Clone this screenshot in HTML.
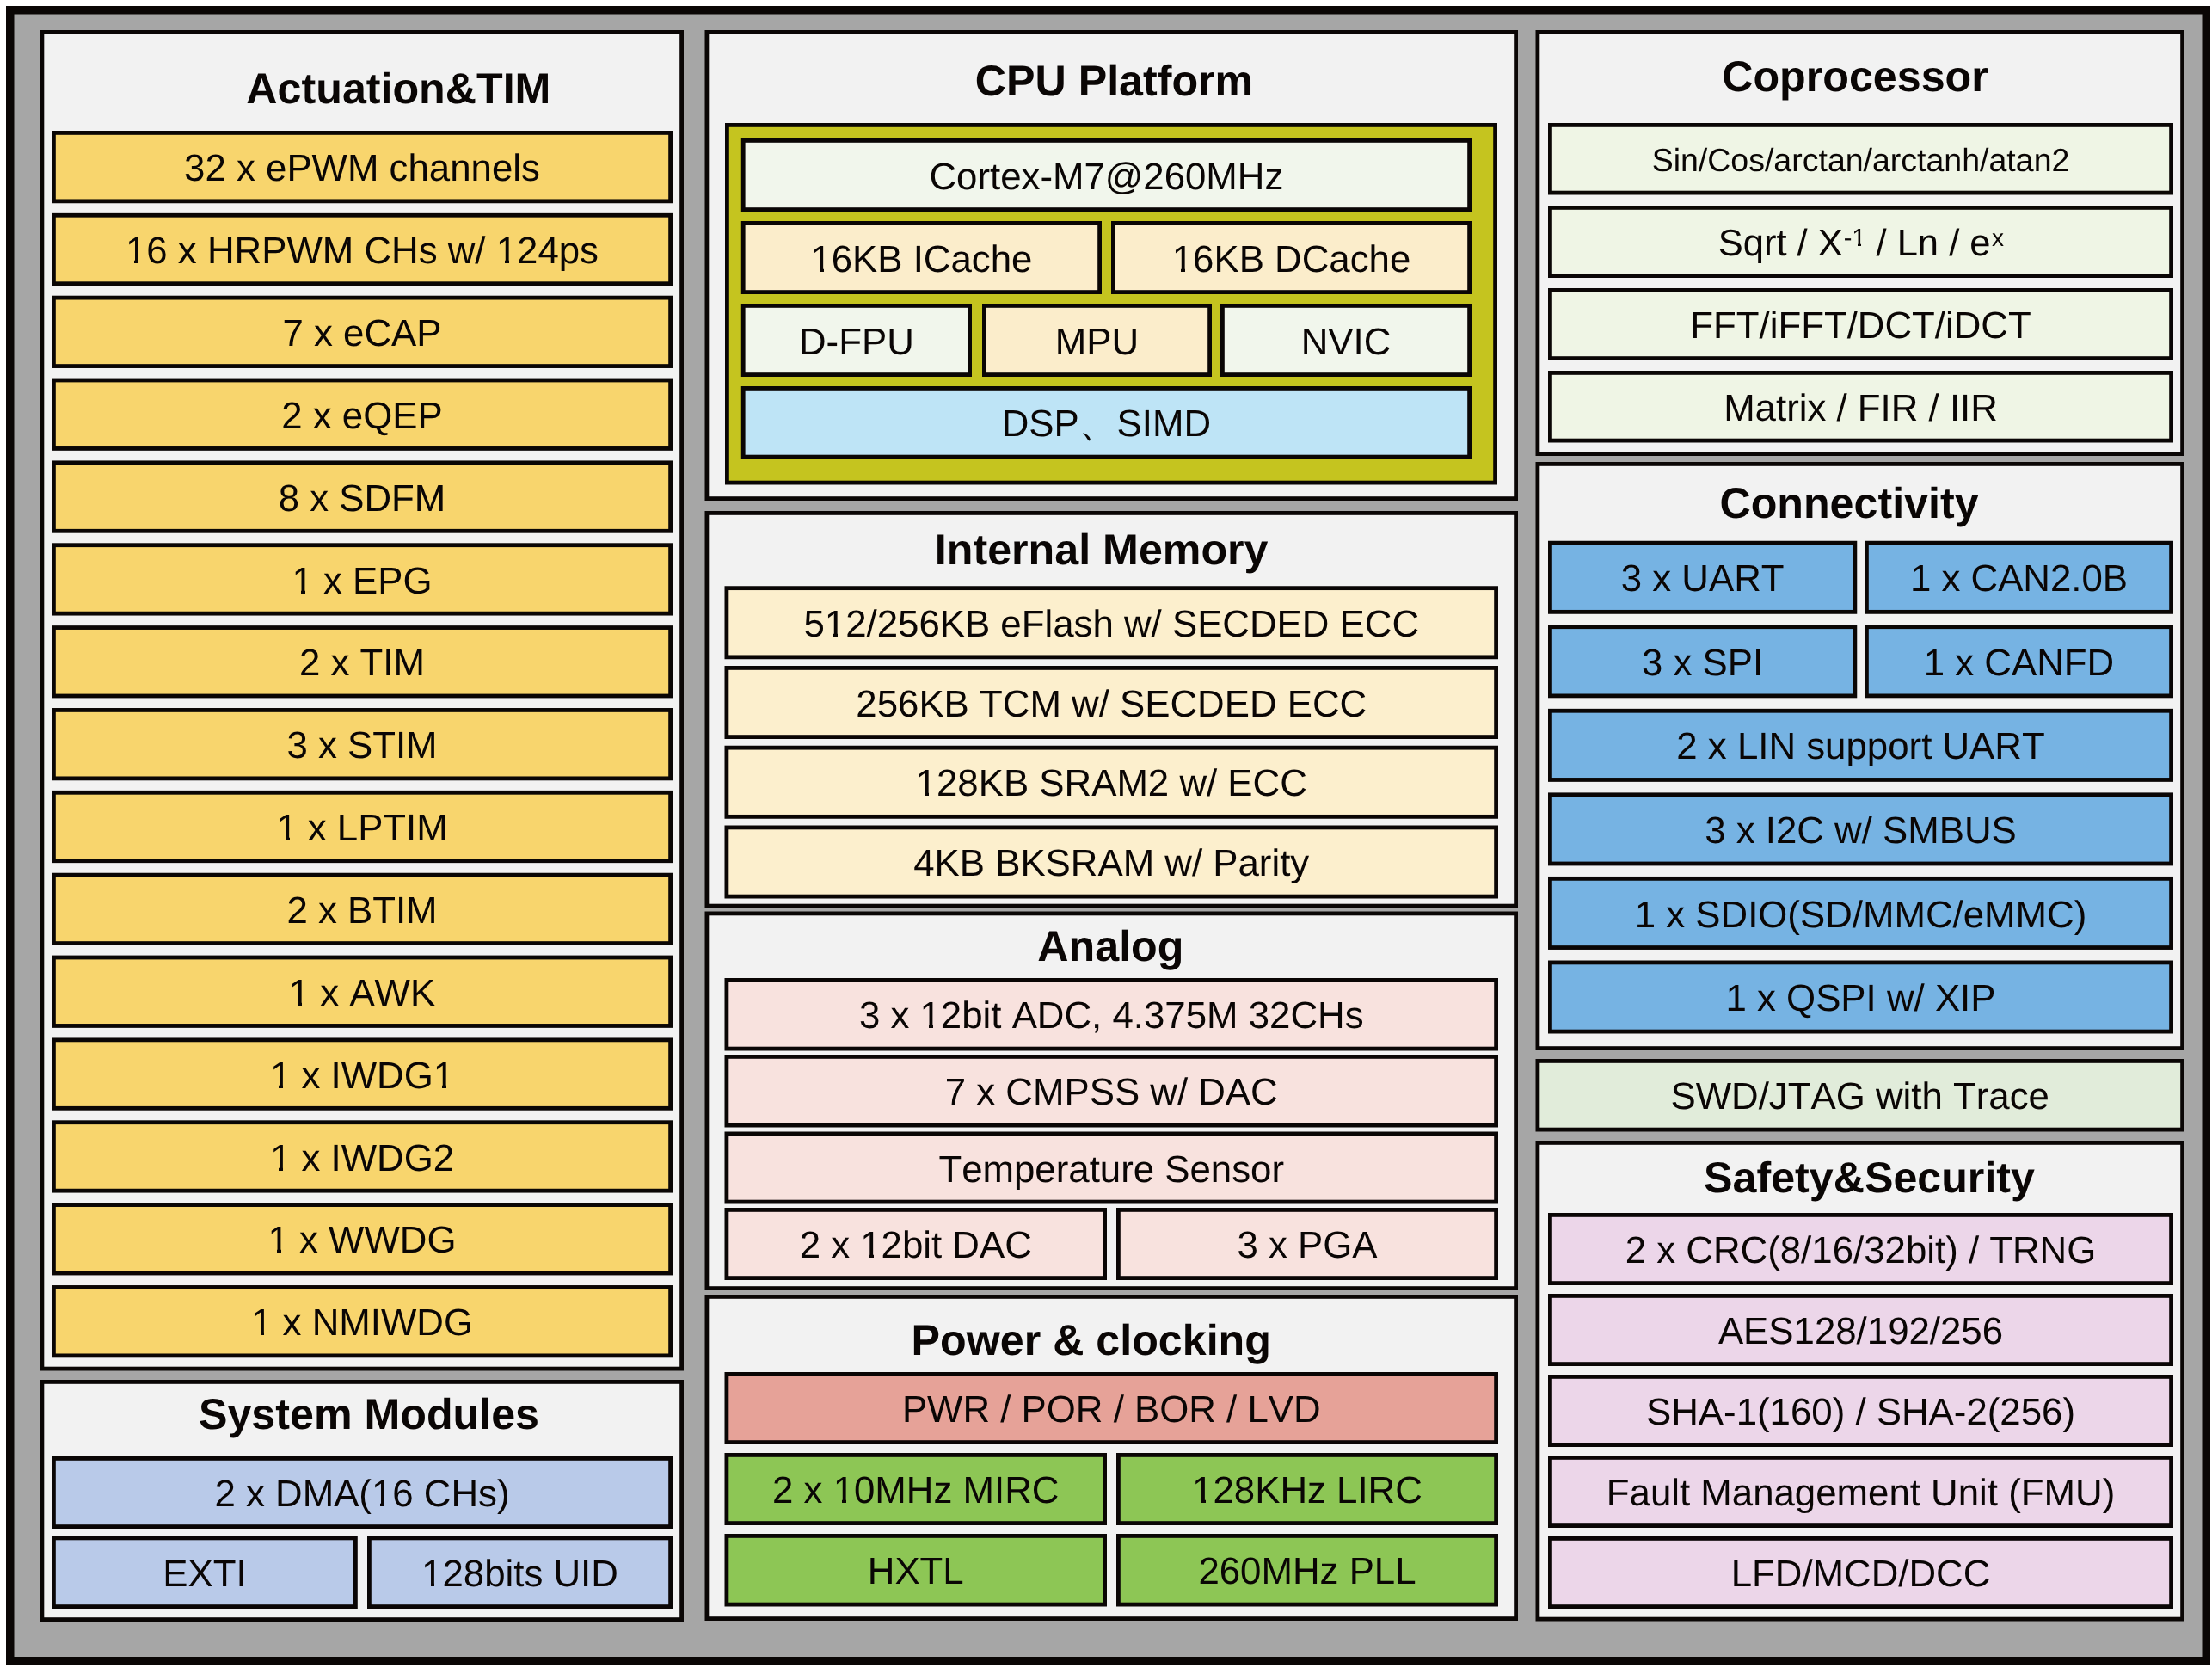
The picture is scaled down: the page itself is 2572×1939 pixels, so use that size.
<!DOCTYPE html>
<html><head><meta charset="utf-8"><style>
html,body{margin:0;padding:0;background:#fff;}
body{position:relative;width:2572px;height:1939px;overflow:hidden;}
svg{display:block;will-change:transform;}
text{font-family:"Liberation Sans",sans-serif;fill:#0a0605;text-anchor:middle;text-rendering:geometricPrecision;font-kerning:none;}
</style></head><body>
<svg width="2572" height="1939" viewBox="0 0 2572 1939">
<rect x="0" y="0" width="2572" height="1939" fill="#fff"/>
<rect x="11.75" y="11.75" width="2553.50" height="1919.00" fill="#a6a6a6" stroke="#0a0605" stroke-width="9.5"/>
<rect x="48.90" y="37.40" width="743.70" height="1553.70" fill="#f2f2f2" stroke="#0a0605" stroke-width="4.8"/>
<rect x="48.90" y="1606.40" width="743.70" height="276.20" fill="#f2f2f2" stroke="#0a0605" stroke-width="4.8"/>
<rect x="821.90" y="37.40" width="940.70" height="542.20" fill="#f2f2f2" stroke="#0a0605" stroke-width="4.8"/>
<rect x="821.90" y="596.40" width="940.70" height="456.70" fill="#f2f2f2" stroke="#0a0605" stroke-width="4.8"/>
<rect x="821.90" y="1061.90" width="940.70" height="435.70" fill="#f2f2f2" stroke="#0a0605" stroke-width="4.8"/>
<rect x="821.90" y="1507.40" width="940.70" height="374.20" fill="#f2f2f2" stroke="#0a0605" stroke-width="4.8"/>
<rect x="1787.90" y="37.40" width="749.70" height="490.20" fill="#f2f2f2" stroke="#0a0605" stroke-width="4.8"/>
<rect x="1787.90" y="539.40" width="749.70" height="679.20" fill="#f2f2f2" stroke="#0a0605" stroke-width="4.8"/>
<rect x="1787.90" y="1328.40" width="749.70" height="553.70" fill="#f2f2f2" stroke="#0a0605" stroke-width="4.8"/>
<text x="463.40" y="120.00" font-size="50.2" font-weight="bold">Actuation&amp;TIM</text>
<text x="429.00" y="1661.00" font-size="50.2" font-weight="bold">System Modules</text>
<text x="1295.50" y="111.00" font-size="50.2" font-weight="bold">CPU Platform</text>
<text x="1280.70" y="656.00" font-size="50.2" font-weight="bold">Internal Memory</text>
<text x="1291.40" y="1116.50" font-size="50.2" font-weight="bold">Analog</text>
<text x="1268.75" y="1574.60" font-size="50.2" font-weight="bold">Power &amp; clocking</text>
<text x="2157.00" y="106.00" font-size="50.2" font-weight="bold">Coprocessor</text>
<text x="2150.00" y="602.00" font-size="50.2" font-weight="bold">Connectivity</text>
<text x="2173.50" y="1386.00" font-size="50.2" font-weight="bold">Safety&amp;Security</text>
<rect x="62.40" y="154.40" width="717.20" height="79.45" fill="#f8d56d" stroke="#0a0605" stroke-width="4.8"/>
<text x="421.00" y="210.22" font-size="43.8">32 x ePWM channels</text>
<rect x="62.40" y="250.26" width="717.20" height="79.45" fill="#f8d56d" stroke="#0a0605" stroke-width="4.8"/>
<text id="n0" x="421.00" y="306.09" font-size="43.8">16 x HRPWM CHs w/ 124ps</text>
<rect x="148" y="302" width="8" height="5" fill="#f8d56d" shape-rendering="crispEdges"/>
<rect x="161" y="302" width="8" height="5" fill="#f8d56d" shape-rendering="crispEdges"/>
<rect x="579" y="302" width="8" height="5" fill="#f8d56d" shape-rendering="crispEdges"/>
<rect x="592" y="302" width="8" height="5" fill="#f8d56d" shape-rendering="crispEdges"/>
<rect x="62.40" y="346.12" width="717.20" height="79.45" fill="#f8d56d" stroke="#0a0605" stroke-width="4.8"/>
<text x="421.00" y="401.95" font-size="43.8">7 x eCAP</text>
<rect x="62.40" y="441.98" width="717.20" height="79.45" fill="#f8d56d" stroke="#0a0605" stroke-width="4.8"/>
<text x="421.00" y="497.80" font-size="43.8">2 x eQEP</text>
<rect x="62.40" y="537.84" width="717.20" height="79.45" fill="#f8d56d" stroke="#0a0605" stroke-width="4.8"/>
<text x="421.00" y="593.67" font-size="43.8">8 x SDFM</text>
<rect x="62.40" y="633.70" width="717.20" height="79.45" fill="#f8d56d" stroke="#0a0605" stroke-width="4.8"/>
<text id="n1" x="421.00" y="689.52" font-size="43.8">1 x EPG</text>
<rect x="342" y="685" width="8" height="6" fill="#f8d56d" shape-rendering="crispEdges"/>
<rect x="355" y="685" width="8" height="6" fill="#f8d56d" shape-rendering="crispEdges"/>
<rect x="62.40" y="729.56" width="717.20" height="79.45" fill="#f8d56d" stroke="#0a0605" stroke-width="4.8"/>
<text x="421.00" y="785.38" font-size="43.8">2 x TIM</text>
<rect x="62.40" y="825.42" width="717.20" height="79.45" fill="#f8d56d" stroke="#0a0605" stroke-width="4.8"/>
<text x="421.00" y="881.25" font-size="43.8">3 x STIM</text>
<rect x="62.40" y="921.28" width="717.20" height="79.45" fill="#f8d56d" stroke="#0a0605" stroke-width="4.8"/>
<text id="n2" x="421.00" y="977.11" font-size="43.8">1 x LPTIM</text>
<rect x="324" y="973" width="8" height="5" fill="#f8d56d" shape-rendering="crispEdges"/>
<rect x="337" y="973" width="7" height="5" fill="#f8d56d" shape-rendering="crispEdges"/>
<rect x="62.40" y="1017.14" width="717.20" height="79.45" fill="#f8d56d" stroke="#0a0605" stroke-width="4.8"/>
<text x="421.00" y="1072.96" font-size="43.8">2 x BTIM</text>
<rect x="62.40" y="1113.00" width="717.20" height="79.45" fill="#f8d56d" stroke="#0a0605" stroke-width="4.8"/>
<text id="n3" x="421.00" y="1168.82" font-size="43.8">1 x AWK</text>
<rect x="338" y="1165" width="8" height="5" fill="#f8d56d" shape-rendering="crispEdges"/>
<rect x="351" y="1165" width="8" height="5" fill="#f8d56d" shape-rendering="crispEdges"/>
<rect x="62.40" y="1208.86" width="717.20" height="79.45" fill="#f8d56d" stroke="#0a0605" stroke-width="4.8"/>
<text id="n4" x="421.00" y="1264.68" font-size="43.8">1 x IWDG1</text>
<rect x="316" y="1261" width="8" height="5" fill="#f8d56d" shape-rendering="crispEdges"/>
<rect x="329" y="1261" width="8" height="5" fill="#f8d56d" shape-rendering="crispEdges"/>
<rect x="506" y="1261" width="8" height="5" fill="#f8d56d" shape-rendering="crispEdges"/>
<rect x="519" y="1261" width="8" height="5" fill="#f8d56d" shape-rendering="crispEdges"/>
<rect x="62.40" y="1304.72" width="717.20" height="79.45" fill="#f8d56d" stroke="#0a0605" stroke-width="4.8"/>
<text id="n5" x="421.00" y="1360.54" font-size="43.8">1 x IWDG2</text>
<rect x="316" y="1356" width="8" height="6" fill="#f8d56d" shape-rendering="crispEdges"/>
<rect x="329" y="1356" width="8" height="6" fill="#f8d56d" shape-rendering="crispEdges"/>
<rect x="62.40" y="1400.58" width="717.20" height="79.45" fill="#f8d56d" stroke="#0a0605" stroke-width="4.8"/>
<text id="n6" x="421.00" y="1456.40" font-size="43.8">1 x WWDG</text>
<rect x="314" y="1452" width="8" height="6" fill="#f8d56d" shape-rendering="crispEdges"/>
<rect x="327" y="1452" width="8" height="6" fill="#f8d56d" shape-rendering="crispEdges"/>
<rect x="62.40" y="1496.44" width="717.20" height="79.45" fill="#f8d56d" stroke="#0a0605" stroke-width="4.8"/>
<text id="n7" x="421.00" y="1552.26" font-size="43.8">1 x NMIWDG</text>
<rect x="294" y="1548" width="9" height="6" fill="#f8d56d" shape-rendering="crispEdges"/>
<rect x="307" y="1548" width="8" height="6" fill="#f8d56d" shape-rendering="crispEdges"/>
<rect x="62.40" y="1695.40" width="717.20" height="79.20" fill="#b9cae9" stroke="#0a0605" stroke-width="4.8"/>
<text id="n8" x="421.00" y="1751.10" font-size="43.8">2 x DMA(16 CHs)</text>
<rect x="434" y="1747" width="8" height="5" fill="#b9cae9" shape-rendering="crispEdges"/>
<rect x="447" y="1747" width="8" height="5" fill="#b9cae9" shape-rendering="crispEdges"/>
<rect x="62.40" y="1787.90" width="351.00" height="79.70" fill="#b9cae9" stroke="#0a0605" stroke-width="4.8"/>
<text x="237.90" y="1843.85" font-size="43.8">EXTI</text>
<rect x="429.40" y="1787.90" width="350.20" height="79.70" fill="#b9cae9" stroke="#0a0605" stroke-width="4.8"/>
<text id="n9" x="604.50" y="1843.85" font-size="43.8">128bits UID</text>
<rect x="492" y="1840" width="9" height="5" fill="#b9cae9" shape-rendering="crispEdges"/>
<rect x="505" y="1840" width="8" height="5" fill="#b9cae9" shape-rendering="crispEdges"/>
<rect x="845.40" y="145.40" width="893.20" height="415.70" fill="#c5c41f" stroke="#0a0605" stroke-width="4.8"/>
<rect x="864.20" y="163.40" width="844.40" height="80.20" fill="#f1f6ec" stroke="#0a0605" stroke-width="4.8"/>
<text x="1286.40" y="219.60" font-size="43.8">Cortex-M7@260MHz</text>
<rect x="864.20" y="259.40" width="414.40" height="80.20" fill="#fbedcb" stroke="#0a0605" stroke-width="4.8"/>
<text id="n10" x="1071.40" y="315.60" font-size="43.8">16KB ICache</text>
<rect x="945" y="312" width="8" height="5" fill="#fbedcb" shape-rendering="crispEdges"/>
<rect x="958" y="312" width="8" height="5" fill="#fbedcb" shape-rendering="crispEdges"/>
<rect x="1294.40" y="259.40" width="414.20" height="80.20" fill="#fbedcb" stroke="#0a0605" stroke-width="4.8"/>
<text id="n11" x="1501.50" y="315.60" font-size="43.8">16KB DCache</text>
<rect x="1365" y="312" width="8" height="5" fill="#fbedcb" shape-rendering="crispEdges"/>
<rect x="1378" y="312" width="8" height="5" fill="#fbedcb" shape-rendering="crispEdges"/>
<rect x="864.20" y="355.40" width="263.40" height="80.20" fill="#f1f6ec" stroke="#0a0605" stroke-width="4.8"/>
<text x="995.90" y="411.60" font-size="43.8">D-FPU</text>
<rect x="1144.40" y="355.40" width="262.20" height="80.20" fill="#fbedcb" stroke="#0a0605" stroke-width="4.8"/>
<text x="1275.50" y="411.60" font-size="43.8">MPU</text>
<rect x="1421.40" y="355.40" width="287.20" height="80.20" fill="#f1f6ec" stroke="#0a0605" stroke-width="4.8"/>
<text x="1565.00" y="411.60" font-size="43.8">NVIC</text>
<rect x="864.20" y="451.40" width="844.40" height="79.70" fill="#bee4f6" stroke="#0a0605" stroke-width="4.8"/>
<text x="1286.40" y="507.35" font-size="43.8">DSP、SIMD</text>
<rect x="844.90" y="683.65" width="894.70" height="80.20" fill="#fcefcd" stroke="#0a0605" stroke-width="4.8"/>
<text id="n12" x="1292.25" y="739.85" font-size="43.8">512/256KB eFlash w/ SECDED ECC</text>
<rect x="961" y="736" width="8" height="5" fill="#fcefcd" shape-rendering="crispEdges"/>
<rect x="974" y="736" width="8" height="5" fill="#fcefcd" shape-rendering="crispEdges"/>
<rect x="844.90" y="776.40" width="894.70" height="80.20" fill="#fcefcd" stroke="#0a0605" stroke-width="4.8"/>
<text x="1292.25" y="832.60" font-size="43.8">256KB TCM w/ SECDED ECC</text>
<rect x="844.90" y="869.15" width="894.70" height="80.20" fill="#fcefcd" stroke="#0a0605" stroke-width="4.8"/>
<text id="n13" x="1292.25" y="925.35" font-size="43.8">128KB SRAM2 w/ ECC</text>
<rect x="1067" y="921" width="8" height="6" fill="#fcefcd" shape-rendering="crispEdges"/>
<rect x="1080" y="921" width="8" height="6" fill="#fcefcd" shape-rendering="crispEdges"/>
<rect x="844.90" y="961.90" width="894.70" height="80.20" fill="#fcefcd" stroke="#0a0605" stroke-width="4.8"/>
<text x="1292.25" y="1018.10" font-size="43.8">4KB BKSRAM w/ Parity</text>
<rect x="844.90" y="1139.40" width="894.70" height="79.70" fill="#f8e2de" stroke="#0a0605" stroke-width="4.8"/>
<text id="n14" x="1292.25" y="1195.35" font-size="43.8">3 x 12bit ADC, 4.375M 32CHs</text>
<rect x="1072" y="1191" width="8" height="6" fill="#f8e2de" shape-rendering="crispEdges"/>
<rect x="1085" y="1191" width="8" height="6" fill="#f8e2de" shape-rendering="crispEdges"/>
<rect x="844.90" y="1228.40" width="894.70" height="79.70" fill="#f8e2de" stroke="#0a0605" stroke-width="4.8"/>
<text x="1292.25" y="1284.35" font-size="43.8">7 x CMPSS w/ DAC</text>
<rect x="844.90" y="1317.90" width="894.70" height="79.20" fill="#f8e2de" stroke="#0a0605" stroke-width="4.8"/>
<text x="1292.25" y="1373.60" font-size="43.8">Temperature Sensor</text>
<rect x="844.90" y="1406.40" width="439.70" height="79.20" fill="#f8e2de" stroke="#0a0605" stroke-width="4.8"/>
<text id="n15" x="1064.75" y="1462.10" font-size="43.8">2 x 12bit DAC</text>
<rect x="1003" y="1458" width="8" height="5" fill="#f8e2de" shape-rendering="crispEdges"/>
<rect x="1016" y="1458" width="7" height="5" fill="#f8e2de" shape-rendering="crispEdges"/>
<rect x="1300.40" y="1406.40" width="439.20" height="79.20" fill="#f8e2de" stroke="#0a0605" stroke-width="4.8"/>
<text x="1520.00" y="1462.10" font-size="43.8">3 x PGA</text>
<rect x="844.90" y="1597.40" width="894.70" height="79.20" fill="#e6a298" stroke="#0a0605" stroke-width="4.8"/>
<text x="1292.25" y="1653.10" font-size="43.8">PWR / POR / BOR / LVD</text>
<rect x="844.90" y="1691.40" width="439.70" height="79.20" fill="#8dc655" stroke="#0a0605" stroke-width="4.8"/>
<text id="n16" x="1064.75" y="1747.10" font-size="43.8">2 x 10MHz MIRC</text>
<rect x="971" y="1743" width="8" height="5" fill="#8dc655" shape-rendering="crispEdges"/>
<rect x="984" y="1743" width="8" height="5" fill="#8dc655" shape-rendering="crispEdges"/>
<rect x="1300.40" y="1691.40" width="439.20" height="79.20" fill="#8dc655" stroke="#0a0605" stroke-width="4.8"/>
<text id="n17" x="1520.00" y="1747.10" font-size="43.8">128KHz LIRC</text>
<rect x="1388" y="1743" width="9" height="5" fill="#8dc655" shape-rendering="crispEdges"/>
<rect x="1402" y="1743" width="7" height="5" fill="#8dc655" shape-rendering="crispEdges"/>
<rect x="844.90" y="1785.40" width="439.70" height="79.70" fill="#8dc655" stroke="#0a0605" stroke-width="4.8"/>
<text x="1064.75" y="1841.35" font-size="43.8">HXTL</text>
<rect x="1300.40" y="1785.40" width="439.20" height="79.70" fill="#8dc655" stroke="#0a0605" stroke-width="4.8"/>
<text x="1520.00" y="1841.35" font-size="43.8">260MHz PLL</text>
<rect x="1802.40" y="145.40" width="722.20" height="78.70" fill="#eff5e5" stroke="#0a0605" stroke-width="4.8"/>
<text x="2163.50" y="198.55" font-size="37.5">Sin/Cos/arctan/arctanh/atan2</text>
<rect x="1802.40" y="241.40" width="722.20" height="79.20" fill="#eff5e5" stroke="#0a0605" stroke-width="4.8"/>
<text y="296.5" font-size="43.5" style="text-anchor:start"><tspan x="1997.7">Sqrt / X</tspan><tspan x="2181.5" y="296.5">/ Ln / e</tspan><tspan x="2316" y="285.5" font-size="28">x</tspan></text>
<text id="sup1" x="2143.7" y="285.7" font-size="29" style="text-anchor:start">-1</text>
<rect x="2155" y="283" width="5" height="4" fill="#eff5e5" shape-rendering="crispEdges"/>
<rect x="2164" y="283" width="5" height="4" fill="#eff5e5" shape-rendering="crispEdges"/>
<rect x="1802.40" y="337.40" width="722.20" height="79.20" fill="#eff5e5" stroke="#0a0605" stroke-width="4.8"/>
<text x="2163.50" y="393.10" font-size="43.8">FFT/iFFT/DCT/iDCT</text>
<rect x="1802.40" y="433.40" width="722.20" height="78.70" fill="#eff5e5" stroke="#0a0605" stroke-width="4.8"/>
<text x="2163.50" y="488.85" font-size="43.8">Matrix / FIR / IIR</text>
<rect x="1802.40" y="631.15" width="354.45" height="80.20" fill="#76b3e3" stroke="#0a0605" stroke-width="4.8"/>
<text x="1979.62" y="687.35" font-size="43.8">3 x UART</text>
<rect x="2170.40" y="631.15" width="354.20" height="80.20" fill="#76b3e3" stroke="#0a0605" stroke-width="4.8"/>
<text id="n19" x="2347.50" y="687.35" font-size="43.8">1 x CAN2.0B</text>
<rect x="1802.40" y="728.70" width="354.45" height="80.20" fill="#76b3e3" stroke="#0a0605" stroke-width="4.8"/>
<text x="1979.62" y="784.90" font-size="43.8">3 x SPI</text>
<rect x="2170.40" y="728.70" width="354.20" height="80.20" fill="#76b3e3" stroke="#0a0605" stroke-width="4.8"/>
<text id="n20" x="2347.50" y="784.90" font-size="43.8">1 x CANFD</text>
<rect x="1802.40" y="826.25" width="722.20" height="80.20" fill="#76b3e3" stroke="#0a0605" stroke-width="4.8"/>
<text x="2163.50" y="882.45" font-size="43.8">2 x LIN support UART</text>
<rect x="1802.40" y="923.80" width="722.20" height="80.20" fill="#76b3e3" stroke="#0a0605" stroke-width="4.8"/>
<text x="2163.50" y="980.00" font-size="43.8">3 x I2C w/ SMBUS</text>
<rect x="1802.40" y="1021.35" width="722.20" height="80.20" fill="#76b3e3" stroke="#0a0605" stroke-width="4.8"/>
<text id="n21" x="2163.50" y="1077.55" font-size="43.8">1 x SDIO(SD/MMC/eMMC)</text>
<rect x="1802.40" y="1118.90" width="722.20" height="80.20" fill="#76b3e3" stroke="#0a0605" stroke-width="4.8"/>
<text id="n22" x="2163.50" y="1175.10" font-size="43.8">1 x QSPI w/ XIP</text>
<rect x="1787.90" y="1233.40" width="749.70" height="79.70" fill="#e1ecda" stroke="#0a0605" stroke-width="4.8"/>
<text x="2162.75" y="1289.35" font-size="43.8">SWD/JTAG with Trace</text>
<rect x="1802.40" y="1412.40" width="722.20" height="79.20" fill="#ecd6e9" stroke="#0a0605" stroke-width="4.8"/>
<text id="n23" x="2163.50" y="1468.10" font-size="43.8">2 x CRC(8/16/32bit) / TRNG</text>
<rect x="1802.40" y="1506.40" width="722.20" height="79.20" fill="#ecd6e9" stroke="#0a0605" stroke-width="4.8"/>
<text id="n24" x="2163.50" y="1562.10" font-size="43.8">AES128/192/256</text>
<rect x="1802.40" y="1600.40" width="722.20" height="79.20" fill="#ecd6e9" stroke="#0a0605" stroke-width="4.8"/>
<text id="n25" x="2163.50" y="1656.10" font-size="43.8">SHA-1(160) / SHA-2(256)</text>
<rect x="1802.40" y="1694.40" width="722.20" height="79.20" fill="#ecd6e9" stroke="#0a0605" stroke-width="4.8"/>
<text x="2163.50" y="1750.10" font-size="43.8">Fault Management Unit (FMU)</text>
<rect x="1802.40" y="1788.40" width="722.20" height="79.20" fill="#ecd6e9" stroke="#0a0605" stroke-width="4.8"/>
<text x="2163.50" y="1844.10" font-size="43.8">LFD/MCD/DCC</text>
</svg>

</body></html>
